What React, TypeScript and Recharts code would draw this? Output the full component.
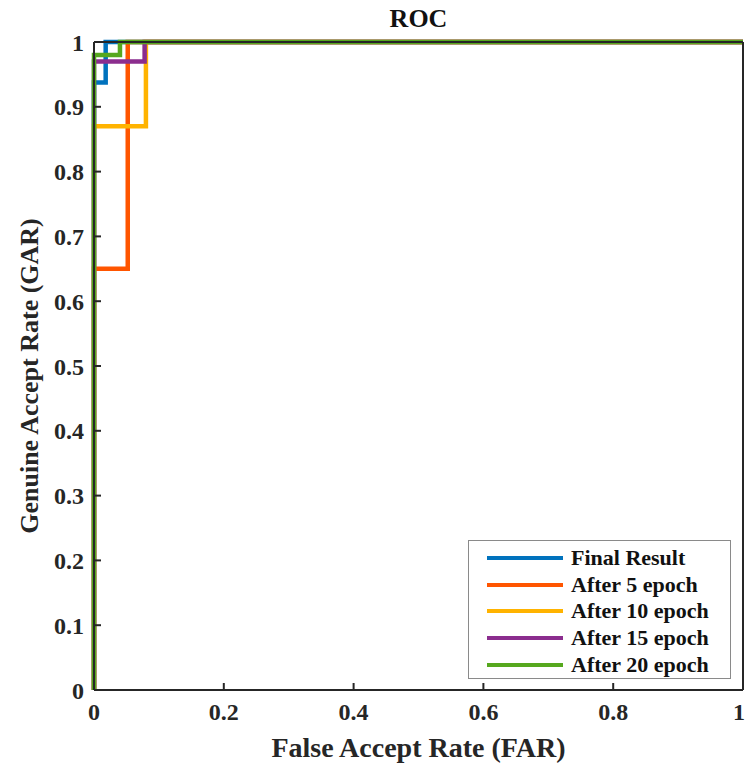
import { LineChart, Line, XAxis, YAxis } from 'recharts';

// ROC step curves (FAR, GAR) per training stage
const finalResult = [
  { far: 0, gar: 0 },
  { far: 0, gar: 0.9375 },
  { far: 0.018, gar: 0.9375 },
  { far: 0.018, gar: 1 },
  { far: 1, gar: 1 },
];
const after5 = [
  { far: 0, gar: 0 },
  { far: 0, gar: 0.65 },
  { far: 0.052, gar: 0.65 },
  { far: 0.052, gar: 1 },
  { far: 1, gar: 1 },
];
const after10 = [
  { far: 0, gar: 0 },
  { far: 0, gar: 0.87 },
  { far: 0.08, gar: 0.87 },
  { far: 0.08, gar: 1 },
  { far: 1, gar: 1 },
];
const after15 = [
  { far: 0, gar: 0 },
  { far: 0, gar: 0.97 },
  { far: 0.078, gar: 0.97 },
  { far: 0.078, gar: 1 },
  { far: 1, gar: 1 },
];
const after20 = [
  { far: 0, gar: 0 },
  { far: 0, gar: 0.98 },
  { far: 0.04, gar: 0.98 },
  { far: 0.04, gar: 1 },
  { far: 1, gar: 1 },
];

const xTicks = [0, 0.2, 0.4, 0.6, 0.8, 1];
const yTicks = [0, 0.1, 0.2, 0.3, 0.4, 0.5, 0.6, 0.7, 0.8, 0.9, 1];

const series = [
  { name: 'Final Result', data: finalResult, color: '#0072BD' },
  { name: 'After 5 epoch', data: after5, color: '#FF5500' },
  { name: 'After 10 epoch', data: after10, color: '#FFB300' },
  { name: 'After 15 epoch', data: after15, color: '#8B2D8E' },
  { name: 'After 20 epoch', data: after20, color: '#56A81E' },
];

const FONT = '"Liberation Serif", "Times New Roman", serif';
const AXIS = '#262626';

const tickStyle = { fontFamily: FONT, fontSize: 24, fontWeight: 700, fill: AXIS };

// legend drawn as an overlay so it doesn't shrink the plot area
const LegendBox = () => (
  <div
    style={{
      position: 'absolute',
      left: 468,
      top: 540,
      border: '1px solid #8a8a8a',
      background: '#fff',
      width: 263,
      height: 139,
      boxSizing: 'border-box',
      padding: '4px 0 0 18px',
      fontFamily: FONT,
      fontWeight: 700,
      fontSize: 22,
      color: '#111',
    }}
  >
    {series.map((s) => (
      <div key={s.name} style={{ display: 'flex', alignItems: 'center', height: 26.6 }}>
        <div style={{ width: 76, height: 4, background: s.color, marginRight: 8 }} />
        <span>{s.name}</span>
      </div>
    ))}
  </div>
);

export default function App() {
  return (
    <div style={{ position: 'absolute', left: 0, top: 0, width: 745, height: 769, background: '#fff' }}>
      <div
        style={{
          position: 'absolute',
          left: 94,
          width: 649,
          top: 4,
          textAlign: 'center',
          fontFamily: FONT,
          fontWeight: 700,
          fontSize: 26,
          color: '#111',
        }}
      >
        ROC
      </div>
      <div
        style={{
          position: 'absolute',
          left: 30,
          top: 376,
          transform: 'translate(-50%, -50%) rotate(-90deg)',
          whiteSpace: 'nowrap',
          fontFamily: FONT,
          fontWeight: 700,
          fontSize: 26,
          color: '#262626',
        }}
      >
        Genuine Accept Rate (GAR)
      </div>
      <LineChart width={745} height={769} margin={{ top: 41, right: 1, bottom: 0, left: 0 }}>
        <XAxis
          xAxisId="b"
          type="number"
          dataKey="far"
          domain={[0, 1]}
          ticks={xTicks}
          height={79}
          tickSize={-7}
          tickMargin={20}
          tick={tickStyle}
          axisLine={{ stroke: AXIS, strokeWidth: 2 }}
          tickLine={{ stroke: AXIS, strokeWidth: 2 }}
          label={{
            value: 'False Accept Rate (FAR)',
            position: 'insideBottom',
            offset: 12,
            style: { fontFamily: FONT, fontWeight: 700, fontSize: 28, fill: '#262626' },
          }}
        />
        <XAxis
          xAxisId="t"
          orientation="top"
          type="number"
          dataKey="far"
          domain={[0, 1]}
          ticks={xTicks}
          height={1}
          tickSize={-7}
          tick={false}
          axisLine={{ stroke: AXIS, strokeWidth: 2 }}
          tickLine={{ stroke: AXIS, strokeWidth: 2 }}
        />
        <YAxis
          yAxisId="l"
          type="number"
          domain={[0, 1]}
          ticks={yTicks}
          width={94}
          tickSize={-7}
          tickMargin={17}
          tick={tickStyle}
          axisLine={{ stroke: AXIS, strokeWidth: 2 }}
          tickLine={{ stroke: AXIS, strokeWidth: 2 }}
        />
        <YAxis
          yAxisId="r"
          orientation="right"
          type="number"
          domain={[0, 1]}
          ticks={yTicks}
          width={1}
          tickSize={-7}
          tick={false}
          axisLine={{ stroke: AXIS, strokeWidth: 2 }}
          tickLine={{ stroke: AXIS, strokeWidth: 2 }}
        />
        {series.map((s) => (
          <Line
            key={s.name}
            xAxisId="b"
            yAxisId="l"
            data={s.data}
            dataKey="gar"
            name={s.name}
            type="linear"
            stroke={s.color}
            strokeWidth={4.5}
            dot={false}
            isAnimationActive={false}
          />
        ))}
      </LineChart>
      <LegendBox />
    </div>
  );
}
